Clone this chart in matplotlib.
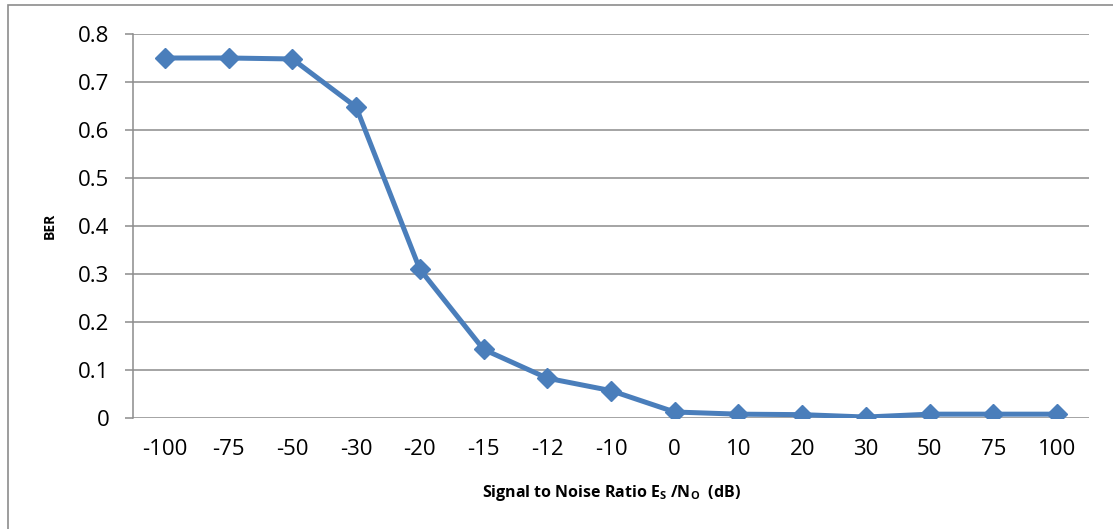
import matplotlib
matplotlib.use('Agg')
import matplotlib.pyplot as plt
from matplotlib.patches import Rectangle

# data
snr_labels = ['-100', '-75', '-50', '-30', '-20', '-15', '-12', '-10',
              '0', '10', '20', '30', '50', '75', '100']
ber = [0.750, 0.750, 0.748, 0.648, 0.310, 0.143, 0.083, 0.057,
       0.0125, 0.008, 0.007, 0.002, 0.008, 0.008, 0.008]
yticks = [0, 0.1, 0.2, 0.3, 0.4, 0.5, 0.6, 0.7, 0.8]

plt.rcParams['font.family'] = ['Open Sans', 'DejaVu Sans']
plt.rcParams['mathtext.fontset'] = 'custom'
plt.rcParams['mathtext.rm'] = 'Open Sans'
plt.rcParams['mathtext.bf'] = 'Open Sans:bold'

W, H = 1113, 529
fig = plt.figure(figsize=(W / 100, H / 100), dpi=100)

# outer chart border (right and bottom edges run off the image)
fig.patches.append(Rectangle((8 / W, -0.1), 1.2, 1 - 5 / H + 0.1,
                             transform=fig.transFigure, fill=False,
                             edgecolor='#8c8c8c', linewidth=1.2))

ax = fig.add_axes([133 / W, 1 - 418 / H, (1089 - 133) / W, (418 - 34) / H])

x = list(range(len(snr_labels)))
ax.plot(x, ber, color='#4a7ebb', linewidth=3.6, marker='D', markersize=10,
        markeredgecolor='#4a7ebb', zorder=3, solid_joinstyle='round')

ax.set_xlim(-0.5, len(snr_labels) - 0.5)
ax.set_ylim(0, 0.8)
ax.set_yticks(yticks)
ax.set_yticklabels(['0' if v == 0 else '%.1f' % v for v in yticks])
ax.set_xticks(x)
ax.set_xticklabels(snr_labels)

ax.grid(axis='y', color='#8c8c8c', linewidth=1.1)
ax.set_axisbelow(True)
for s in ['top', 'right', 'bottom']:
    ax.spines[s].set_visible(False)
ax.spines['left'].set_color('#8c8c8c')
ax.spines['left'].set_linewidth(1.1)

ax.tick_params(axis='y', length=6, width=1.1, color='#8c8c8c', pad=11,
               labelsize=16)
ax.tick_params(axis='x', length=0, pad=15, labelsize=16)

fig.text(50 / W, 1 - 226 / H, 'BER', rotation=90, ha='center', va='center',
         fontsize=10, fontweight='bold')
fig.text(611 / W, 1 - 493 / H,
         r'Signal to Noise Ratio E$_\mathbf{S}$ /N$_\mathbf{O}$  (dB)',
         ha='center', va='center', fontsize=11.5, fontweight='bold')

fig.savefig('out.png', dpi=100)
